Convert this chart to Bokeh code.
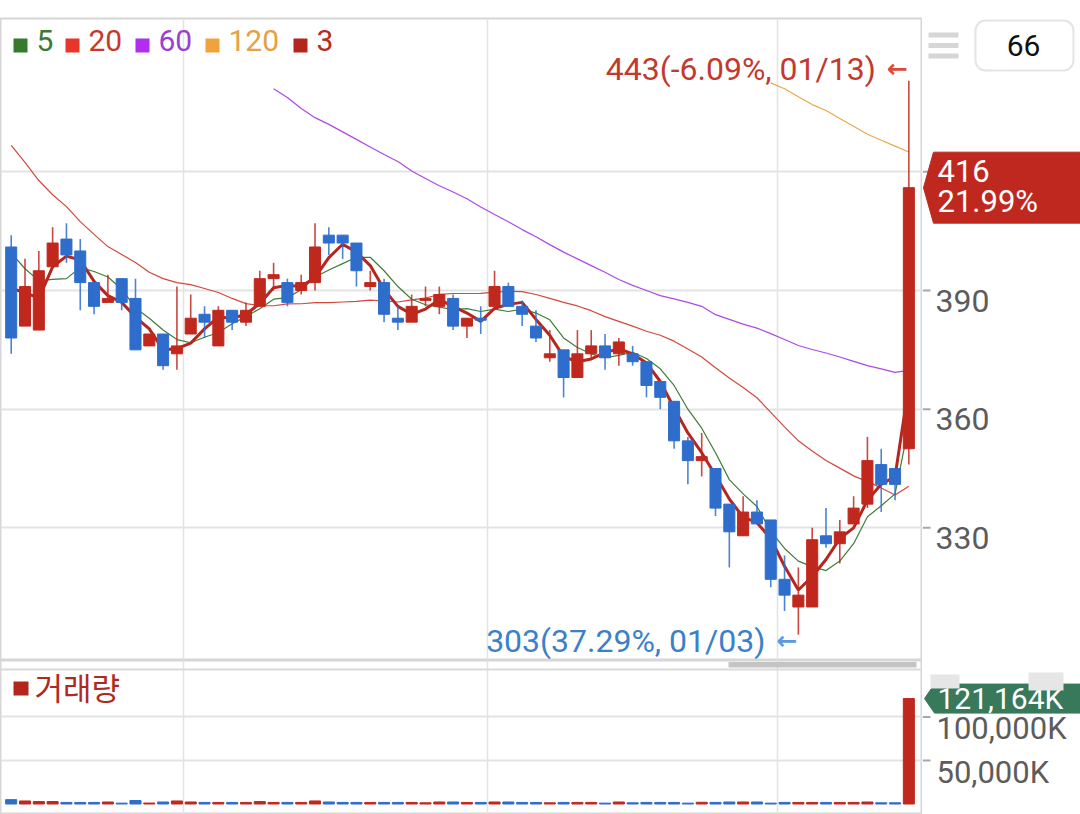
from bokeh.plotting import figure
from bokeh.models import (ColumnDataSource, Range1d, FixedTicker, Label,
                          BoxAnnotation, Span)
from bokeh.layouts import column, row
from bokeh.embed import file_html
from bokeh.resources import INLINE
from bokeh.core.properties import value

NaN = float("nan")

# ---------------- data ----------------
opens = [401, 381, 380, 396, 403, 400, 392, 387, 393, 388,
         376, 379, 374, 379, 384, 376, 385, 382, 386, 393,
         392, 390, 392, 404, 404, 402, 391, 392, 383, 382,
         387.5, 386, 388, 381, 383, 386, 391, 386, 381, 373,
         375, 368, 374, 376, 374, 374, 372, 367, 362, 352,
         347, 345, 336, 328, 334, 332, 317, 310, 310, 328,
         326, 331, 336, 346, 345, 350]
highs = [404, 398, 400, 406, 407, 403, 392, 394, 393, 393,
         379, 379, 391, 389, 386, 386, 385, 387, 395, 397,
         393, 394, 407, 406, 404, 402, 395, 393, 386, 389,
         391, 391, 389, 383, 386, 395, 392, 387.5, 385, 380,
         375, 380, 380, 379, 378, 376, 372, 367, 362, 353,
         354, 345, 336, 338, 337, 332, 323, 320, 330, 335,
         332, 338, 353, 350, 345, 443]
lows = [374, 381, 380, 396, 397, 385, 384, 387, 385, 375,
        376, 370, 370, 379, 378, 376, 380, 381, 386, 390,
        386, 389, 390, 399, 398, 391, 390, 382, 380, 382,
        386, 384, 380, 378, 379, 386, 386, 381, 377, 372,
        363, 368, 373, 370, 371, 371, 363, 360, 350, 341,
        343, 333, 320, 328, 331, 315, 309, 303, 310, 325,
        321, 331, 335, 334, 337, 346]
closes = [378, 391, 395, 402, 399, 392, 386, 388, 387, 375,
          379, 371, 376, 383, 382, 385, 382, 385, 393, 394,
          387, 392, 401, 402, 402, 395, 392, 384, 382, 386,
          388, 389, 381, 383, 382.5, 391, 386, 384, 378, 374,
          368, 374, 376, 373, 377, 372, 366, 363, 352, 347,
          348, 335, 329, 334, 331, 317, 313, 313, 327, 326,
          329, 335, 347, 341, 341, 416]
volume_k = [5000, 3500, 2800, 2800, 1800, 1800, 1800, 2300, 1000, 4000,
            1100, 2300, 3500, 2300, 1800, 1800, 1800, 1800, 2800, 1800,
            1800, 1800, 3500, 2300, 1800, 1800, 1800, 1800, 1800, 1800,
            1400, 2300, 2300, 1800, 1800, 2300, 2300, 1800, 1800, 1400,
            1800, 1800, 1800, 1000, 2300, 1400, 1800, 1800, 1800, 1000,
            2000, 1800, 2300, 2300, 2300, 1000, 1800, 1800, 1800, 1800,
            1800, 1800, 2300, 1400, 1400, 121164]
ma3 = [390.5, 389.5, 388.0, 396.0, 398.7, 397.7, 392.3, 388.7, 387.0, 383.3,
       380.3, 375.0, 375.3, 376.7, 380.3, 383.3, 383.0, 384.0, 386.7, 390.7,
       391.3, 391.0, 393.3, 398.3, 401.7, 399.7, 396.3, 390.3, 386.0, 384.0,
       385.3, 387.7, 386.0, 384.3, 382.2, 385.5, 386.5, 387.0, 382.7, 378.7,
       373.3, 372.0, 372.7, 374.3, 375.3, 374.0, 371.7, 367.0, 360.3, 354.0,
       349.0, 343.3, 337.3, 332.7, 331.3, 327.3, 320.3, 314.3, 317.7, 322.0,
       327.3, 330.0, 337.0, 341.0, 343.0, 366.0]
ma5 = [399.5, 395.5, 392.5, 392.8, 393.0, 395.8, 394.8, 393.4, 390.4, 385.6,
       383.0, 380.0, 377.6, 376.8, 378.2, 379.4, 381.6, 383.4, 385.4, 387.8,
       388.2, 390.2, 393.4, 395.2, 396.8, 398.4, 398.4, 395.0, 391.0, 387.8,
       386.4, 385.8, 385.2, 385.4, 384.7, 385.3, 384.7, 385.3, 384.3, 382.6,
       378.0, 375.6, 374.0, 373.0, 373.6, 374.4, 372.8, 370.2, 366.0, 360.0,
       355.2, 349.0, 342.2, 338.6, 335.4, 329.2, 324.8, 321.6, 320.2, 319.2,
       321.6, 326.0, 332.8, 335.6, 338.6, 356.0]
ma20 = [426.7, 422.4, 417.8, 414.2, 411.2, 407.4, 404.2, 401.1, 399.1, 397.1,
        394.6, 393.0, 392.0, 391.5, 390.5, 389.5, 388.0, 386.7, 386.2,
        386.15, 386.6, 386.65, 386.95, 386.95, 387.1, 387.25, 387.55, 387.35, 387.1, 387.65,
        388.1, 389.0, 389.25, 389.25, 389.3, 389.6, 389.8, 389.7, 389.0, 388.0,
        387.0, 386.1, 384.9, 383.4, 382.2, 381.0, 379.7, 378.7, 377.2, 375.2,
        373.2, 370.5, 367.9, 365.5, 362.9, 359.2, 355.55, 352.0, 349.45, 347.05,
        345.1, 343.15, 341.7, 340.1, 338.3, 340.5]
ma60 = [NaN] * 19 + [
        441.0, 438.8, 436.0, 433.7, 432.0, 430.1, 428.2, 426.3, 424.4, 422.6,
        420.2, 418.3, 416.5, 414.9, 413.2, 411.1, 409.2, 407.4, 405.4, 403.6,
        401.6, 399.7, 398.0, 396.3, 394.6, 392.8, 391.3, 390.0, 388.7, 387.9,
        387.0, 386.0, 383.9, 382.7, 381.5, 380.5, 379.1, 377.6, 376.1, 375.1,
        374.2, 373.2, 372.1, 371.0, 370.2, 369.3, 369.8]
ma120 = [NaN] * 55 + [442.5, 441.0, 439.0, 437.0, 435.5, 433.5, 431.5, 429.5,
                      428.0, 426.5, 425.0]
ma_periods = ["5", "20", "60", "120", "3"]
date_labels = {57: "01/03", 65: "01/13"}
month_breaks = [12.5, 34.5, 55.5]
price_ticks = [330, 360, 390, 420]
price_tick_labels = [330, 360, 390]
vol_ticks = [50000, 100000]
total_count = "66"
vol_title = "거래량"

# ---------------- layout helpers (page pixels -> data) ----------------
MAIN_W = 922          # plot area width (axis line at x = 922)
SIDE_W = 158          # right-hand axis strip
STEP = 13.81          # px per candle
X0 = -10.7 / STEP
X1 = X0 + MAIN_W / STEP
PPP = 3.956           # px per price unit
TOP = 18
SPLIT = 660           # boundary between price and volume panels
BOTTOM = 814
P_TOP = 458.76
P_BOT = P_TOP - (SPLIT - TOP) / PPP
VPP = 1149.4          # volume(K) per px
V_ZERO_Y = 803.5


def dx(px):
    return X0 + px / STEP


def dy(py):
    return P_TOP - (py - TOP) / PPP


def vy(py):
    return (V_ZERO_Y - py) * VPP


RED = "#c0281e"
BLUE = "#2e6dcc"
FONT = "Roboto"
GRID = "#e3e3e3"
AXIS_TXT = "#5c5c5c"

N = len(closes)
idx = list(range(N))
colors = [RED if c >= o else BLUE for o, c in zip(opens, closes)]
src = ColumnDataSource(dict(
    x=idx, h=highs, l=lows,
    top=[max(o, c) for o, c in zip(opens, closes)],
    bot=[min(o, c) for o, c in zip(opens, closes)],
    color=colors, vol=volume_k))


def main_fig(height, y_range, ticks, top_border):
    f = figure(width=MAIN_W, height=height, x_range=x_range, y_range=y_range,
               output_backend="svg", toolbar_location=None,
               x_axis_location=None, y_axis_location=None,
               min_border_left=0, min_border_right=0,
               min_border_top=top_border, min_border_bottom=0)
    f.xgrid.ticker = FixedTicker(ticks=month_breaks)
    f.xgrid.grid_line_color = GRID
    f.xgrid.grid_line_width = 1.5
    f.ygrid.ticker = FixedTicker(ticks=ticks)
    f.ygrid.grid_line_color = GRID
    f.ygrid.grid_line_width = 2
    f.outline_line_color = "#d6d6d6"
    f.outline_line_width = 2
    f.background_fill_color = "white"
    f.border_fill_color = "white"
    return f


def side_fig(height, y_range, top_border):
    f = figure(width=SIDE_W, height=height, x_range=Range1d(MAIN_W, MAIN_W + SIDE_W),
               y_range=y_range, output_backend="svg", toolbar_location=None,
               x_axis_location=None, y_axis_location=None,
               min_border_left=0, min_border_right=0,
               min_border_top=top_border, min_border_bottom=0)
    f.xgrid.visible = False
    f.ygrid.visible = False
    f.outline_line_color = None
    f.background_fill_color = "white"
    f.border_fill_color = "white"
    return f


x_range = Range1d(X0, X1)

# ---------------- price panel ----------------
p = main_fig(SPLIT, Range1d(P_BOT, P_TOP), price_ticks, TOP)

p.line(idx, ma120, line_color="#eaa84a", line_width=1.2)
p.line(idx, ma60, line_color="#ad49e3", line_width=1.2)
p.line(idx, ma20, line_color="#d4473c", line_width=1.2)
p.line(idx, ma5, line_color="#3f7d38", line_width=1.2)
p.line(idx, ma3, line_color="#b5261e", line_width=3)

p.segment(x0="x", y0="h", x1="x", y1="l", line_color="color", line_width=1.6,
          line_alpha=0.85, source=src)
p.vbar(x="x", width=0.8, top="top", bottom="bot", fill_color="color",
       line_color="color", line_width=1, source=src)

# legend
leg_sq = ["#357a2e", "#e8362b", "#b02ef0", "#f0a23c", "#b3261e"]
leg_tx = ["#3b7a35", "#c8372d", "#9b3fd4", "#e5a244", "#b22d22"]
leg_x = [13, 65, 135, 205, 293]
for lab, sq, tc, lx in zip(ma_periods, leg_sq, leg_tx, leg_x):
    p.add_layout(BoxAnnotation(left=dx(lx), right=dx(lx + 14), top=dy(38), bottom=dy(52),
                               fill_color=sq, fill_alpha=1, line_color=None))
    p.add_layout(Label(x=dx(lx + 23), y=dy(40), text=lab, text_font=FONT,
                       text_font_size="30px", text_color=tc,
                       text_baseline="middle", text_align="left"))

# high / low annotations
last = closes[-1]
hi_i = max(idx, key=lambda i: highs[i])
lo_i = min(idx, key=lambda i: lows[i])
hi_text = f"{highs[hi_i]:.0f}({(last / highs[hi_i] - 1) * 100:.2f}%, {date_labels[hi_i]})"
lo_text = f"{lows[lo_i]:.0f}({(last / lows[lo_i] - 1) * 100:.2f}%, {date_labels[lo_i]})"
hy = highs[hi_i] + 12.3 / PPP
ly = lows[lo_i] - 6 / PPP
p.add_layout(Label(x=hi_i, y=hy, x_offset=-33, text=hi_text,
                   text_font=FONT, text_font_size="32px", text_color="#c23a2e",
                   text_align="right", text_baseline="middle"))
p.add_layout(Label(x=hi_i, y=hy, x_offset=-1, text="←", text_font="DejaVu Sans",
                   text_font_size="25px", text_font_style="bold", text_color="#e0473c",
                   text_align="right", text_baseline="middle"))
p.add_layout(Label(x=lo_i, y=ly, x_offset=-33, text=lo_text,
                   text_font=FONT, text_font_size="32px", text_color="#3b80c8",
                   text_align="right", text_baseline="middle"))
p.add_layout(Label(x=lo_i, y=ly, x_offset=-1, text="←", text_font="DejaVu Sans",
                   text_font_size="25px", text_font_style="bold", text_color="#5a9be0",
                   text_align="right", text_baseline="middle"))

# ---------------- price axis strip ----------------
ps = side_fig(SPLIT, p.y_range, TOP)
ps.segment(x0=MAIN_W, x1=MAIN_W + 8, y0=price_ticks, y1=price_ticks,
           line_color="#a8a8a8", line_width=2)
ps.text(x=[MAIN_W + 13] * len(price_tick_labels),
        y=[t - 10 / PPP for t in price_tick_labels],
        text=[str(t) for t in price_tick_labels],
        text_font=value(FONT), text_font_size="32px", text_color=AXIS_TXT,
        text_align="left", text_baseline="middle")

chg = (last / closes[-2] - 1) * 100
half = 35.5 / PPP
ps.patch(x=[MAIN_W + 1, MAIN_W + 11, MAIN_W + SIDE_W, MAIN_W + SIDE_W, MAIN_W + 11],
         y=[last, last + half, last + half, last - half, last - half],
         fill_color="#bf281e", line_color="#bf281e")
ps.text(x=[MAIN_W + 15, MAIN_W + 15], y=[last + 17 / PPP, last - 14 / PPP],
        text=[f"{last:.0f}", f"{chg:.2f}%"], text_font=value(FONT),
        text_font_size="31px", text_color="white",
        text_align="left", text_baseline="middle")

# menu icon and count box
for y0 in (32, 42.5, 53):
    ps.add_layout(BoxAnnotation(left=928, right=958, top=dy(y0), bottom=dy(y0 + 5),
                                fill_color="#d6d6d6", fill_alpha=1, line_color=None))
ps.add_layout(BoxAnnotation(left=975, right=1073, top=dy(20), bottom=dy(70),
                            fill_color="white", fill_alpha=1, line_color="#a6a6a6",
                            line_width=2, border_radius=10))
ps.add_layout(Label(x=1023, y=dy(45), text=total_count, text_font=FONT,
                    text_font_size="30px", text_color="#111111",
                    text_align="center", text_baseline="middle"))

# ---------------- volume panel ----------------
VOL_H = BOTTOM - SPLIT
v = main_fig(VOL_H, Range1d(vy(BOTTOM), vy(SPLIT)), vol_ticks, 0)
v.vbar(x="x", width=0.8, top="vol", bottom=0, fill_color="color", line_color="color",
       line_width=1, source=src)
v.add_layout(Span(location=vy(669), dimension="width", line_color="#dadada", line_width=2))
v.add_layout(BoxAnnotation(left=dx(728), right=dx(916), top=vy(661.5), bottom=vy(667),
                           fill_color="#c4c4c4", fill_alpha=1, line_color=None))
v.add_layout(BoxAnnotation(left=dx(13), right=dx(28), top=vy(681), bottom=vy(695),
                           fill_color="#b3261e", fill_alpha=1, line_color=None))
v.add_layout(Label(x=dx(34), y=vy(686), text=vol_title, text_font="Noto Sans CJK KR",
                   text_font_size="31px", text_color="#ad2a20",
                   text_align="left", text_baseline="middle"))

vs = side_fig(VOL_H, v.y_range, 0)
vs.segment(x0=MAIN_W, x1=MAIN_W + 8, y0=vol_ticks, y1=vol_ticks,
           line_color="#a8a8a8", line_width=2)
vs.text(x=[MAIN_W + 14] * len(vol_ticks), y=[t - 12 * VPP for t in vol_ticks],
        text=[f"{t:,}K" for t in vol_ticks], text_font=value(FONT),
        text_font_size="31px", text_color=AXIS_TXT,
        text_align="left", text_baseline="middle")
vs.add_layout(BoxAnnotation(left=930, right=959, top=vy(674), bottom=vy(688),
                            fill_color="#e6e6e6", fill_alpha=1, line_color=None))
vs.add_layout(BoxAnnotation(left=1028, right=1063, top=vy(672), bottom=vy(690),
                            fill_color="#e6e6e6", fill_alpha=1, line_color=None))
last_vol = volume_k[-1]
vh = 14.5 * VPP
vs.patch(x=[MAIN_W + 2, MAIN_W + 12, MAIN_W + SIDE_W, MAIN_W + SIDE_W, MAIN_W + 12],
         y=[last_vol, last_vol + vh, last_vol + vh, last_vol - vh, last_vol - vh],
         fill_color="#37795a", line_color="#37795a")
vs.text(x=[MAIN_W + 15], y=[last_vol], text=[f"{last_vol:,}K"], text_font=value(FONT),
        text_font_size="30px", text_color="white",
        text_align="left", text_baseline="middle")

layout = column(row(p, ps, spacing=0), row(v, vs, spacing=0), spacing=0)
open("out.html", "w").write(file_html(layout, INLINE))
